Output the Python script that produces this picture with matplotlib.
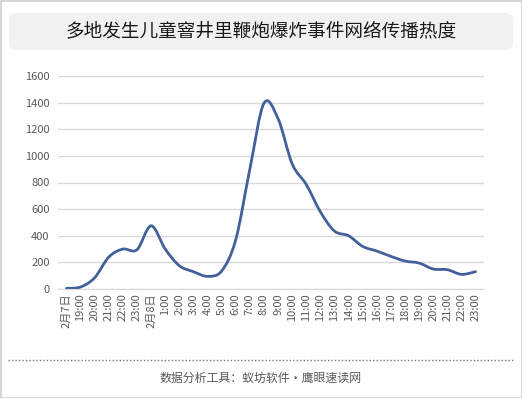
import matplotlib.pyplot as plt
from matplotlib.patches import FancyBboxPatch, Rectangle, PathPatch
from matplotlib.path import Path
from matplotlib.lines import Line2D

plt.rcParams['font.family'] = ['Noto Sans CJK SC', 'DejaVu Sans']

# x categories: evening of Feb 7, then every hour of Feb 8
hours = ["2月7日", "19:00", "20:00", "21:00", "22:00", "23:00", "2月8日"] + \
        [f"{h}:00" for h in range(1, 24)]
heat = [5, 15, 85, 240, 300, 295, 475, 300, 175, 130, 95, 135, 370, 900,
        1395, 1280, 940, 785, 580, 435, 400, 320, 285, 245, 210, 195,
        150, 145, 110, 130]

title = "多地发生儿童窨井里鞭炮爆炸事件网络传播热度"
footer = "数据分析工具：蚁坊软件·鹰眼速读网"
yticks = [0, 200, 400, 600, 800, 1000, 1200, 1400, 1600]

LINE_COLOR = "#43609a"
GRID_COLOR = "#d9d9d9"
TEXT_COLOR = "#595959"


def smooth_path(xs, ys, tension=1 / 6):
    # Catmull-Rom style bezier segments, like a spreadsheet "smoothed line"
    verts = [(xs[0], ys[0])]
    codes = [Path.MOVETO]
    n = len(xs)
    for i in range(n - 1):
        x0, y0 = (xs[i - 1], ys[i - 1]) if i > 0 else (xs[i], ys[i])
        x1, y1 = xs[i], ys[i]
        x2, y2 = xs[i + 1], ys[i + 1]
        x3, y3 = (xs[i + 2], ys[i + 2]) if i + 2 < n else (x2, y2)
        c1 = (x1 + (x2 - x0) * tension, y1 + (y2 - y0) * tension)
        c2 = (x2 - (x3 - x1) * tension, y2 - (y3 - y1) * tension)
        verts += [c1, c2, (x2, y2)]
        codes += [Path.CURVE4] * 3
    return Path(verts, codes)


fig = plt.figure(figsize=(5.22, 3.98), dpi=100)

# outer frame
fig.patches.append(Rectangle((0.5 / 522, 0.5 / 398), 1 - 1 / 522, 1 - 1 / 398,
                             transform=fig.transFigure, fill=False,
                             edgecolor="#d0d0d0", linewidth=1.2))

# title box
fig.patches.append(FancyBboxPatch((9 / 522, 1 - 50 / 398), 504 / 522, 37 / 398,
                                  boxstyle="round,pad=0,rounding_size=0.015",
                                  transform=fig.transFigure, facecolor="#f1f1f1",
                                  edgecolor="none"))
fig.text(0.5, 1 - 31 / 398, title, ha="center", va="center", fontsize=13.4,
         color="#1a1a1a")

ax = fig.add_axes([58 / 522, 1 - 289 / 398, 426 / 522, 213 / 398])
x = list(range(len(hours)))
ax.add_patch(PathPatch(smooth_path(x, heat), facecolor="none",
                       edgecolor=LINE_COLOR, linewidth=2.0, capstyle="round",
                       joinstyle="round"))

ax.set_xlim(-0.6, len(hours) - 0.4)
ax.set_ylim(0, 1600)
ax.set_yticks(yticks)
ax.set_xticks(x)
ax.set_xticklabels(hours, rotation=90, fontsize=8, color=TEXT_COLOR)
ax.tick_params(axis="y", labelsize=8, labelcolor=TEXT_COLOR, length=0, pad=6)
ax.tick_params(axis="x", length=0, pad=3)
ax.grid(axis="y", color=GRID_COLOR, linewidth=1)
ax.set_axisbelow(True)
for side in ["top", "right", "left"]:
    ax.spines[side].set_visible(False)
ax.spines["bottom"].set_color(GRID_COLOR)

# dotted separator and footer
fig.lines.append(Line2D([8 / 522, 514 / 522], [1 - 360 / 398] * 2,
                        transform=fig.transFigure, color="#777777",
                        linewidth=1, linestyle=(0, (1, 1.5))))
fig.text(0.5, 1 - 378 / 398, footer, ha="center", va="center", fontsize=8.6,
         color=TEXT_COLOR)

fig.savefig("out.png", dpi=100)
